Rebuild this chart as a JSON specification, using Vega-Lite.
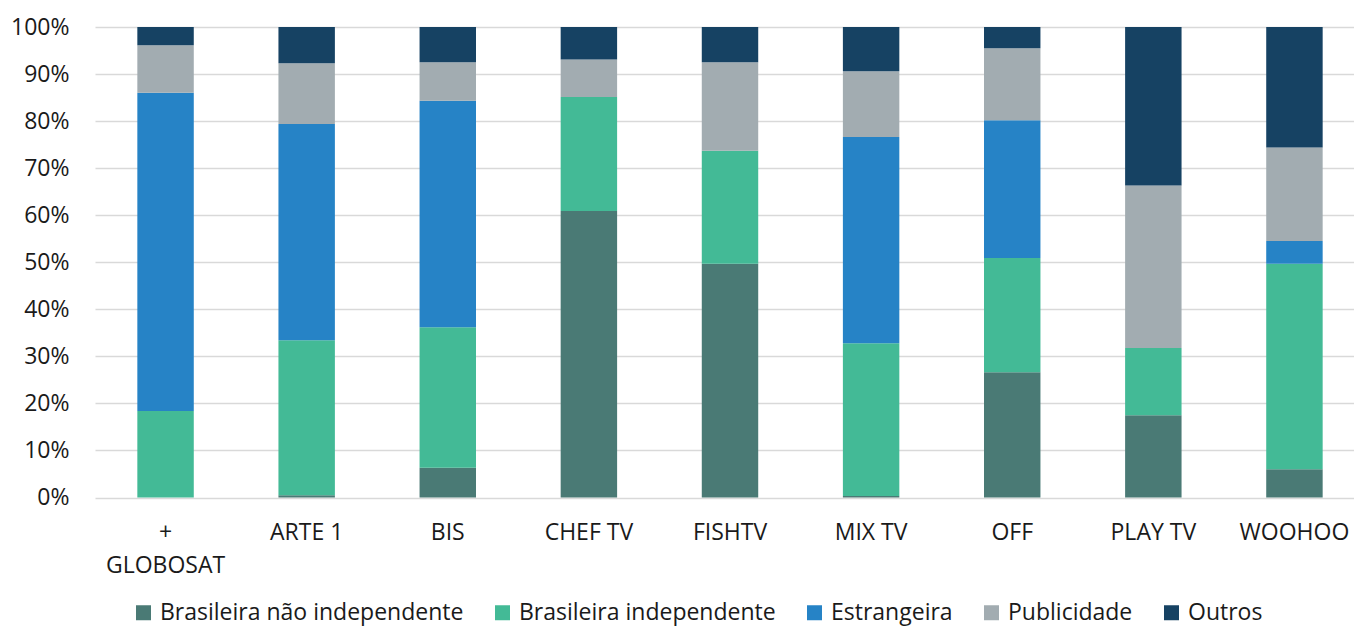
{
  "$schema": "https://vega.github.io/schema/vega-lite/v6.json",
  "width": 1270,
  "height": 470.5,
  "autosize": "none",
  "padding": {"left": 95, "top": 27, "right": 0, "bottom": 129},
  "background": "white",
  "config": {
    "font": "Open Sans",
    "view": {"stroke": null},
    "axis": {"labelFont": "Open Sans", "labelColor": "#1a1a1a", "labelFontSize": 23}
  },
  "data": {
    "values": [
      {"canal": "+ GLOBOSAT", "tipo": "Brasileira não independente", "ord": 1, "v": 0},
      {"canal": "+ GLOBOSAT", "tipo": "Brasileira independente", "ord": 2, "v": 18.4},
      {"canal": "+ GLOBOSAT", "tipo": "Estrangeira", "ord": 3, "v": 67.6},
      {"canal": "+ GLOBOSAT", "tipo": "Publicidade", "ord": 4, "v": 10.1},
      {"canal": "+ GLOBOSAT", "tipo": "Outros", "ord": 5, "v": 3.9},
      {"canal": "ARTE 1", "tipo": "Brasileira não independente", "ord": 1, "v": 0.5},
      {"canal": "ARTE 1", "tipo": "Brasileira independente", "ord": 2, "v": 32.9},
      {"canal": "ARTE 1", "tipo": "Estrangeira", "ord": 3, "v": 46.0},
      {"canal": "ARTE 1", "tipo": "Publicidade", "ord": 4, "v": 12.9},
      {"canal": "ARTE 1", "tipo": "Outros", "ord": 5, "v": 7.7},
      {"canal": "BIS", "tipo": "Brasileira não independente", "ord": 1, "v": 6.3},
      {"canal": "BIS", "tipo": "Brasileira independente", "ord": 2, "v": 29.9},
      {"canal": "BIS", "tipo": "Estrangeira", "ord": 3, "v": 48.1},
      {"canal": "BIS", "tipo": "Publicidade", "ord": 4, "v": 8.2},
      {"canal": "BIS", "tipo": "Outros", "ord": 5, "v": 7.5},
      {"canal": "CHEF TV", "tipo": "Brasileira não independente", "ord": 1, "v": 60.9},
      {"canal": "CHEF TV", "tipo": "Brasileira independente", "ord": 2, "v": 24.2},
      {"canal": "CHEF TV", "tipo": "Estrangeira", "ord": 3, "v": 0},
      {"canal": "CHEF TV", "tipo": "Publicidade", "ord": 4, "v": 8.0},
      {"canal": "CHEF TV", "tipo": "Outros", "ord": 5, "v": 6.9},
      {"canal": "FISHTV", "tipo": "Brasileira não independente", "ord": 1, "v": 49.7},
      {"canal": "FISHTV", "tipo": "Brasileira independente", "ord": 2, "v": 24.0},
      {"canal": "FISHTV", "tipo": "Estrangeira", "ord": 3, "v": 0},
      {"canal": "FISHTV", "tipo": "Publicidade", "ord": 4, "v": 18.8},
      {"canal": "FISHTV", "tipo": "Outros", "ord": 5, "v": 7.5},
      {"canal": "MIX TV", "tipo": "Brasileira não independente", "ord": 1, "v": 0.3},
      {"canal": "MIX TV", "tipo": "Brasileira independente", "ord": 2, "v": 32.5},
      {"canal": "MIX TV", "tipo": "Estrangeira", "ord": 3, "v": 43.8},
      {"canal": "MIX TV", "tipo": "Publicidade", "ord": 4, "v": 14.0},
      {"canal": "MIX TV", "tipo": "Outros", "ord": 5, "v": 9.4},
      {"canal": "OFF", "tipo": "Brasileira não independente", "ord": 1, "v": 26.6},
      {"canal": "OFF", "tipo": "Brasileira independente", "ord": 2, "v": 24.3},
      {"canal": "OFF", "tipo": "Estrangeira", "ord": 3, "v": 29.3},
      {"canal": "OFF", "tipo": "Publicidade", "ord": 4, "v": 15.3},
      {"canal": "OFF", "tipo": "Outros", "ord": 5, "v": 4.5},
      {"canal": "PLAY TV", "tipo": "Brasileira não independente", "ord": 1, "v": 17.5},
      {"canal": "PLAY TV", "tipo": "Brasileira independente", "ord": 2, "v": 14.3},
      {"canal": "PLAY TV", "tipo": "Estrangeira", "ord": 3, "v": 0},
      {"canal": "PLAY TV", "tipo": "Publicidade", "ord": 4, "v": 34.5},
      {"canal": "PLAY TV", "tipo": "Outros", "ord": 5, "v": 33.7},
      {"canal": "WOOHOO", "tipo": "Brasileira não independente", "ord": 1, "v": 6.0},
      {"canal": "WOOHOO", "tipo": "Brasileira independente", "ord": 2, "v": 43.7},
      {"canal": "WOOHOO", "tipo": "Estrangeira", "ord": 3, "v": 4.8},
      {"canal": "WOOHOO", "tipo": "Publicidade", "ord": 4, "v": 19.9},
      {"canal": "WOOHOO", "tipo": "Outros", "ord": 5, "v": 25.6}
    ]
  },
  "mark": {"type": "bar"},
  "encoding": {
    "x": {
      "field": "canal",
      "type": "nominal",
      "sort": null,
      "scale": {"paddingInner": 0.6, "paddingOuter": 0.3},
      "axis": {
        "title": null,
        "labelAngle": 0,
        "ticks": false,
        "domain": false,
        "labelPadding": 24,
        "labelLineHeight": 33,
        "labelOverlap": false,
        "labelLimit": 400,
        "labelExpr": "datum.value == '+ GLOBOSAT' ? ['+', 'GLOBOSAT'] : datum.value"
      }
    },
    "y": {
      "field": "v",
      "type": "quantitative",
      "stack": "normalize",
      "scale": {"domain": [0, 1], "nice": false},
      "axis": {
        "title": null,
        "format": ".0%",
        "values": [0, 0.1, 0.2, 0.3, 0.4, 0.5, 0.6, 0.7, 0.8, 0.9, 1],
        "labelOverlap": false,
        "ticks": false,
        "domain": false,
        "gridColor": "#d9d9d9",
        "gridWidth": 1.5,
        "labelPadding": 26
      }
    },
    "order": {"field": "ord", "type": "quantitative"},
    "color": {
      "field": "tipo",
      "type": "nominal",
      "scale": {
        "domain": ["Brasileira não independente", "Brasileira independente", "Estrangeira", "Publicidade", "Outros"],
        "range": ["#4A7A75", "#43BA96", "#2683C6", "#A2ACB1", "#164263"]
      },
      "legend": {
        "title": null,
        "orient": "none",
        "direction": "horizontal",
        "legendX": 37,
        "legendY": 574,
        "symbolType": "square",
        "symbolSize": 225,
        "symbolStrokeWidth": 0,
        "labelFontSize": 23,
        "labelFont": "Open Sans",
        "labelColor": "#1a1a1a",
        "labelLimit": 600,
        "labelOffset": 5,
        "columnPadding": 27
      }
    }
  }
}
